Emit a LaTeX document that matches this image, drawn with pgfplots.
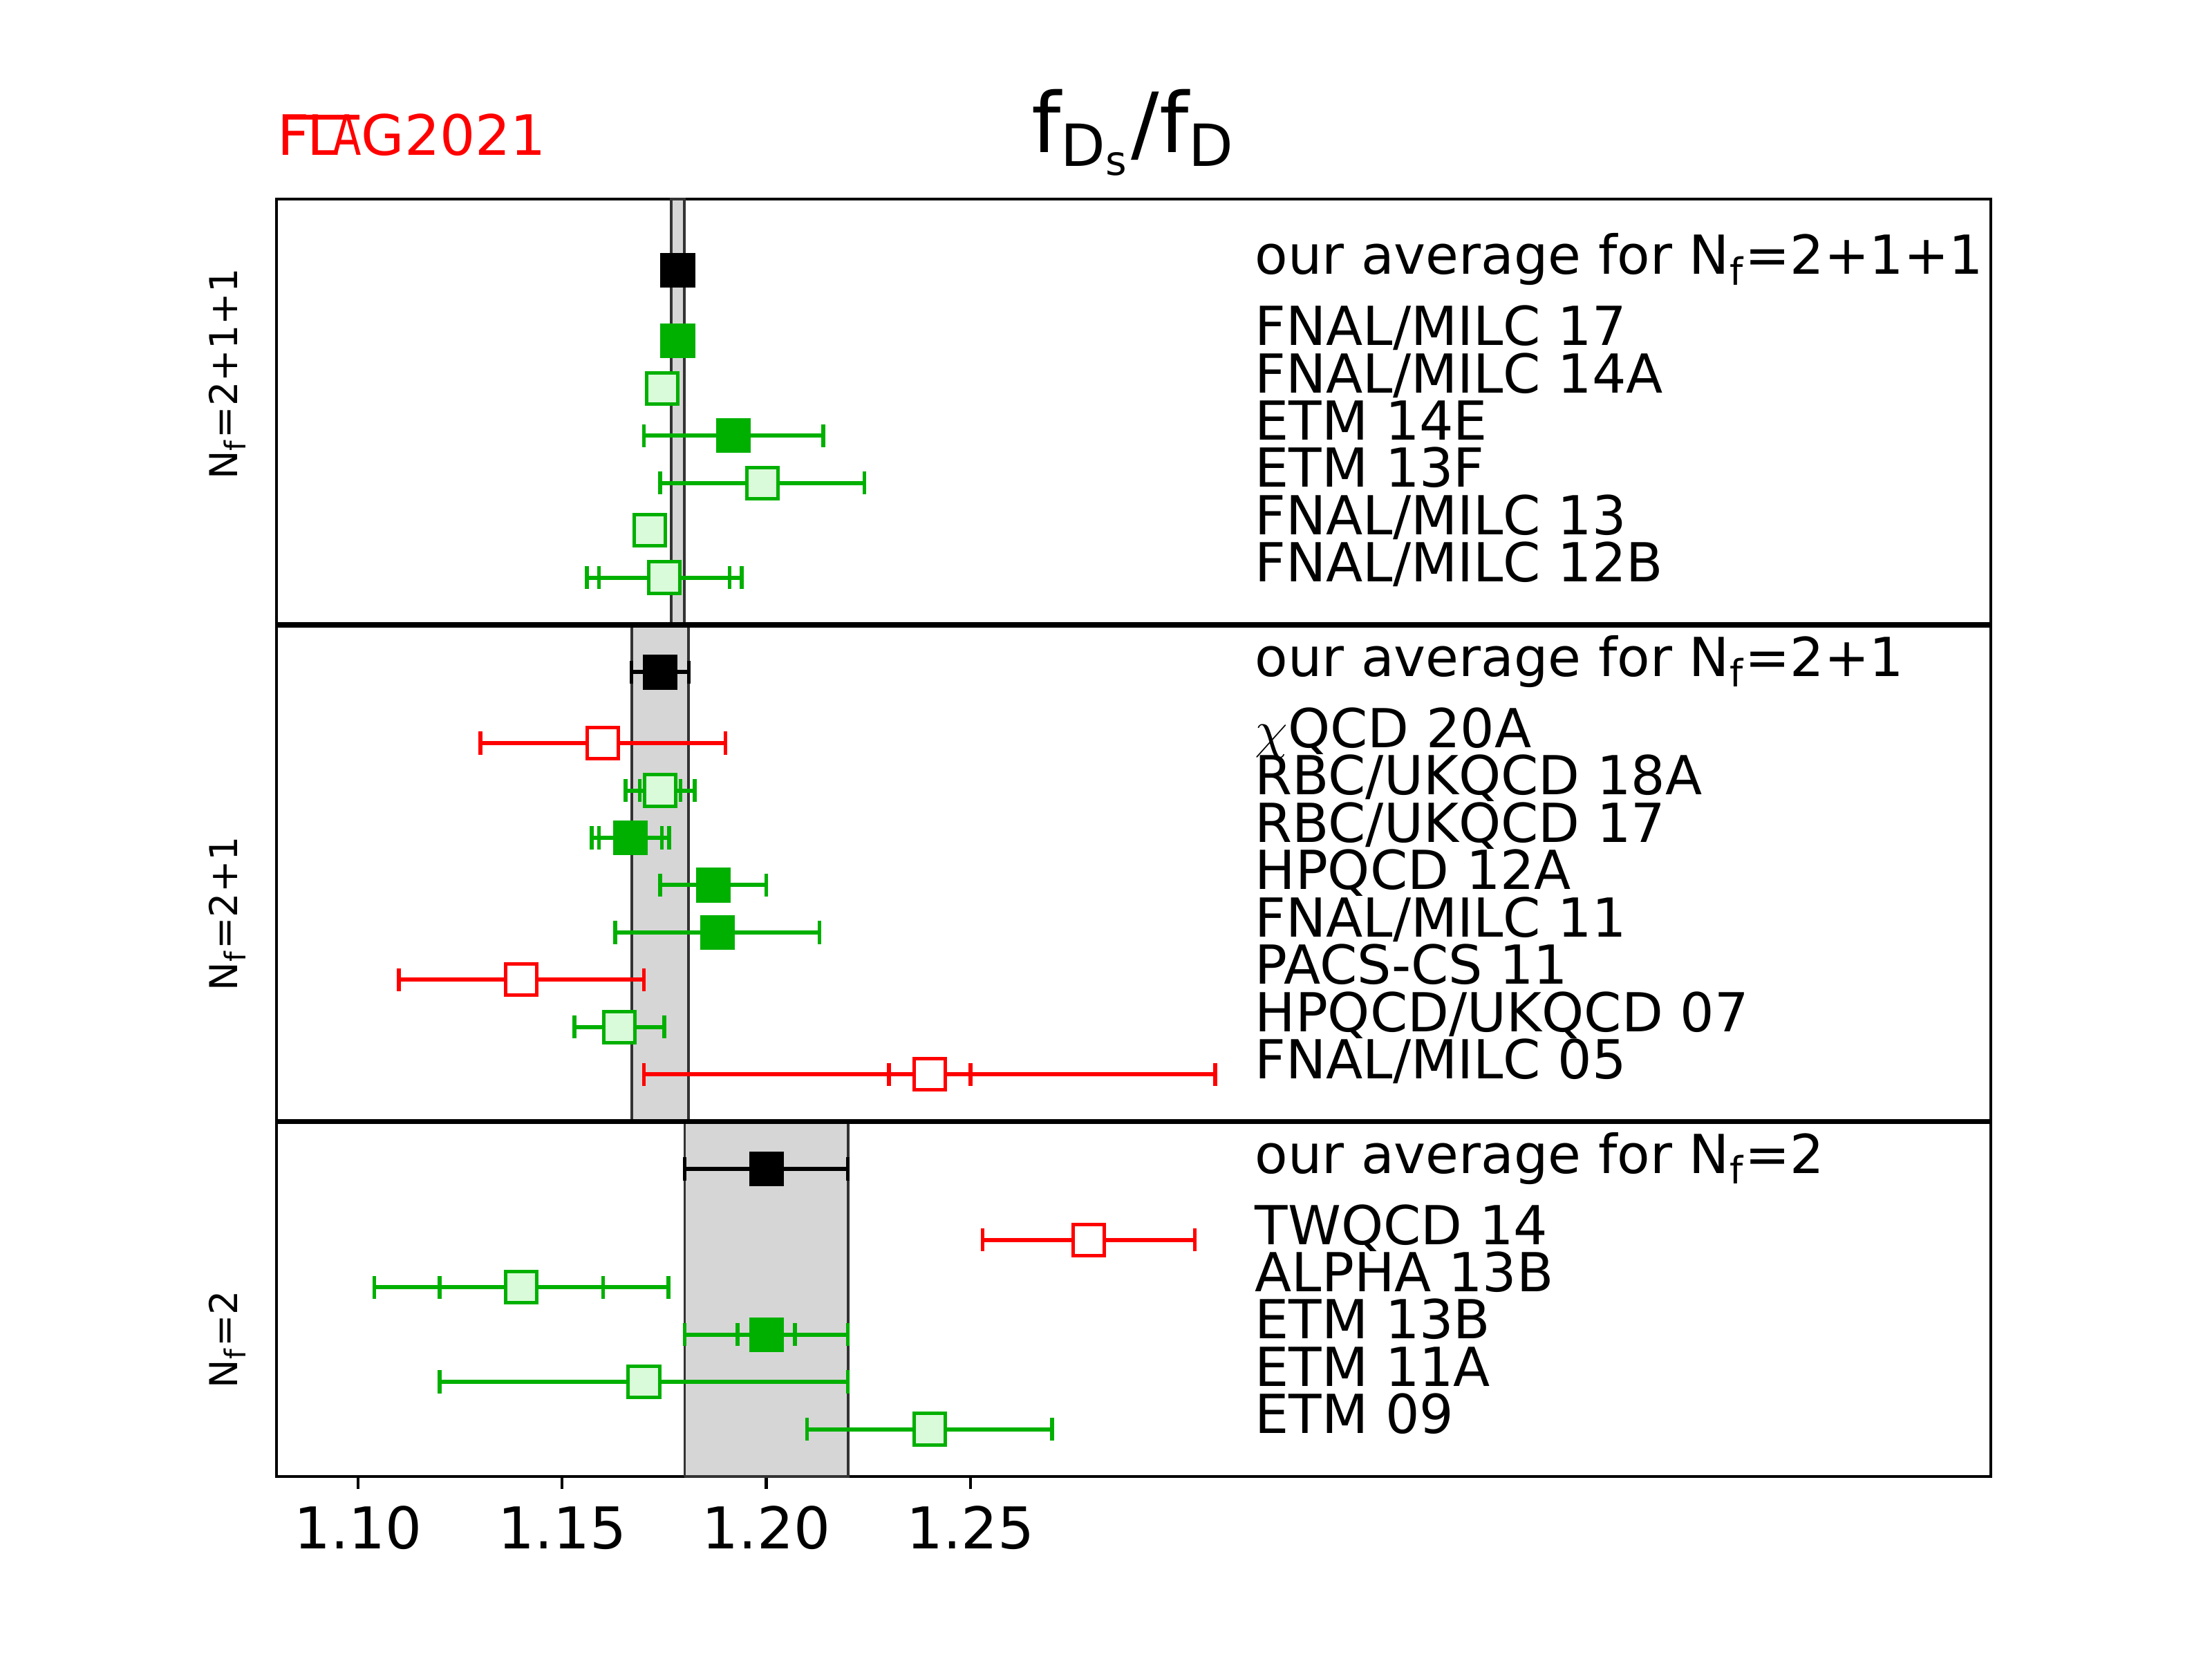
\documentclass[border=0pt]{standalone}
\usepackage{fontspec}
\setmainfont{DejaVu Sans}
\usepackage{graphicx}
\usepackage{pgfplots}
\pgfplotsset{compat=1.18}
\usepackage{pgfplotstable}

\definecolor{fgreen}{RGB}{0,176,0}
\definecolor{lgreen}{RGB}{217,251,217}
\definecolor{bandgray}{RGB}{214,214,214}
\definecolor{bandedge}{RGB}{51,51,51}

% x  y(row)  total error  stat error (0: no separate stat bar)
\pgfplotstableread{
x y eo ei
1.1783 25.5 0.0016 0
1.174 17 0.007 0
1.200 6.5 0.020 0
}\avgdata
\pgfplotstableread{
x y eo ei
1.1783 24 0.0019 0
1.192 22 0.022 0
1.1667 13.5 0.0095 0.0077
1.187 12.5 0.013 0
1.188 11.5 0.025 0
1.200 3 0.020 0.007
}\greenfull
\pgfplotstableread{
x y eo ei
1.1745 23 0.0018 0
1.199 21 0.025 0
1.1714 20 0.001 0
1.175 19 0.019 0.016
1.174 14.5 0.0085 0.005
1.164 9.5 0.011 0
1.140 4 0.036 0.020
1.170 2 0.050 0
1.240 1 0.030 0
}\greenopen
\pgfplotstableread{
x y eo ei
1.160 15.5 0.030 0
1.140 10.5 0.030 0
1.240 8.5 0.070 0.010
1.279 5 0.026 0
}\redopen

\pgfplotsset{
  ebar/.style={only marks, mark=none, forget plot,
    error bars/.cd, x dir=both, x explicit,
    error bar style={line width=0.85pt, #1},
    error mark=|,
    error mark options={#1, line width=0.8pt, mark size=2.4pt}},
  sq/.style 2 args={only marks, mark=square*, mark size=3.25pt,
    mark options={draw=#1, fill=#2, line width=0.72pt}},
}

\newcommand{\lab}{\fontsize{11.2}{13}\selectfont}

\begin{document}
\begin{tikzpicture}
\useasboundingbox (0,0) rectangle (460.8pt,345.6pt);
\begin{axis}[
  at={(57.6pt,38.016pt)}, anchor=south west,
  width=357.12pt, height=266.112pt, scale only axis,
  xmin=1.08, xmax=1.50, ymin=0, ymax=27,
  axis line style={line width=0.6pt},
  ytick=\empty,
  xtick={1.10,1.15,1.20,1.25},
  xticklabels={1.10,1.15,1.20,1.25},
  xtick pos=bottom, tick align=outside,
  major tick length=2.6pt,
  every tick/.style={black, line width=0.6pt},
  xticklabel style={font=\fontsize{12}{14}\selectfont, anchor=base, inner sep=0pt, yshift=-12.4pt},
  clip=false,
]
% averages as bands
\addplot[fill=bandgray, draw=bandedge, line width=0.55pt] coordinates {(1.1767,18) (1.1799,18) (1.1799,27) (1.1767,27) (1.1767,18)};
\addplot[fill=bandgray, draw=bandedge, line width=0.55pt] coordinates {(1.167,7.5) (1.181,7.5) (1.181,18) (1.167,18) (1.167,7.5)};
\addplot[fill=bandgray, draw=bandedge, line width=0.55pt] coordinates {(1.18,0) (1.22,0) (1.22,7.5) (1.18,7.5) (1.18,0)};
% panel separators
\addplot[black, line width=1.1pt] coordinates {(1.08,18) (1.50,18)};
\addplot[black, line width=1.1pt] coordinates {(1.08,7.5) (1.50,7.5)};

% error bars: total, then statistical
\addplot[ebar=black] table[x=x, y=y, x error=eo] {\avgdata};
\addplot[ebar=fgreen] table[x=x, y=y, x error=eo] {\greenfull};
\addplot[ebar=fgreen] table[x=x, y=y, x error=ei] {\greenfull};
\addplot[ebar=fgreen] table[x=x, y=y, x error=eo] {\greenopen};
\addplot[ebar=fgreen] table[x=x, y=y, x error=ei] {\greenopen};
\addplot[ebar=red] table[x=x, y=y, x error=eo] {\redopen};
\addplot[ebar=red] table[x=x, y=y, x error=ei] {\redopen};

% markers
\addplot[sq={black}{black}] table[x=x, y=y] {\avgdata};
\addplot[sq={fgreen}{fgreen}] table[x=x, y=y] {\greenfull};
\addplot[sq={fgreen}{lgreen}] table[x=x, y=y] {\greenopen};
\addplot[sq={red}{white}] table[x=x, y=y] {\redopen};

% labels
\begin{scope}[every node/.style={anchor=base west, inner sep=0pt, font=\lab}]
\node at ([yshift=-0.9pt]axis cs:1.3195,25.5) {our average for N\textsubscript{f}=2+1+1};
\node at ([yshift=-0.9pt]axis cs:1.3195,24) {FNAL/MILC 17};
\node at ([yshift=-0.9pt]axis cs:1.3195,23) {FNAL/MILC 14A};
\node at ([yshift=-0.9pt]axis cs:1.3195,22) {ETM 14E};
\node at ([yshift=-0.9pt]axis cs:1.3195,21) {ETM 13F};
\node at ([yshift=-0.9pt]axis cs:1.3195,20) {FNAL/MILC 13};
\node at ([yshift=-0.9pt]axis cs:1.3195,19) {FNAL/MILC 12B};
\node at ([yshift=-0.9pt]axis cs:1.3195,17) {our average for N\textsubscript{f}=2+1};
\node at ([yshift=-0.9pt]axis cs:1.3195,15.5) {$\chi$QCD 20A};
\node at ([yshift=-0.9pt]axis cs:1.3195,14.5) {RBC/UKQCD 18A};
\node at ([yshift=-0.9pt]axis cs:1.3195,13.5) {RBC/UKQCD 17};
\node at ([yshift=-0.9pt]axis cs:1.3195,12.5) {HPQCD 12A};
\node at ([yshift=-0.9pt]axis cs:1.3195,11.5) {FNAL/MILC 11};
\node at ([yshift=-0.9pt]axis cs:1.3195,10.5) {PACS-CS 11};
\node at ([yshift=-0.9pt]axis cs:1.3195,9.5) {HPQCD/UKQCD 07};
\node at ([yshift=-0.9pt]axis cs:1.3195,8.5) {FNAL/MILC 05};
\node at ([yshift=-0.9pt]axis cs:1.3195,6.5) {our average for N\textsubscript{f}=2};
\node at ([yshift=-0.9pt]axis cs:1.3195,5) {TWQCD 14};
\node at ([yshift=-0.9pt]axis cs:1.3195,4) {ALPHA 13B};
\node at ([yshift=-0.9pt]axis cs:1.3195,3) {ETM 13B};
\node at ([yshift=-0.9pt]axis cs:1.3195,2) {ETM 11A};
\node at ([yshift=-0.9pt]axis cs:1.3195,1) {ETM 09};
\end{scope}

% Nf labels on the left
\begin{scope}[every node/.style={rotate=90, anchor=base, inner sep=0pt, font=\fontsize{8}{9}\selectfont}]
\node at ([xshift=-8.2pt]axis cs:1.08,23.3) {N\textsubscript{f}=2+1+1};
\node at ([xshift=-8.2pt]axis cs:1.08,11.9) {N\textsubscript{f}=2+1};
\node at ([xshift=-8.2pt]axis cs:1.08,2.9) {N\textsubscript{f}=2};
\end{scope}
\end{axis}

% title and logo
\node[anchor=base, inner sep=0pt, font=\fontsize{17.3}{20}\selectfont] at (236.16pt,313.8pt)
  {f\textsubscript{D\textsubscript{s}}/f\textsubscript{D}};
\node[anchor=base west, inner sep=0pt, font=\fontsize{11.6}{14}\selectfont, text=red] at (57.6pt,313.3pt)
  {\rlap{\hspace{0.098em}\rule[0.639em]{1.37em}{0.09em}}F\kern-0.04em L\kern-0.1em \scalebox{0.75}[1]{A}G2021};
\end{tikzpicture}
\end{document}
